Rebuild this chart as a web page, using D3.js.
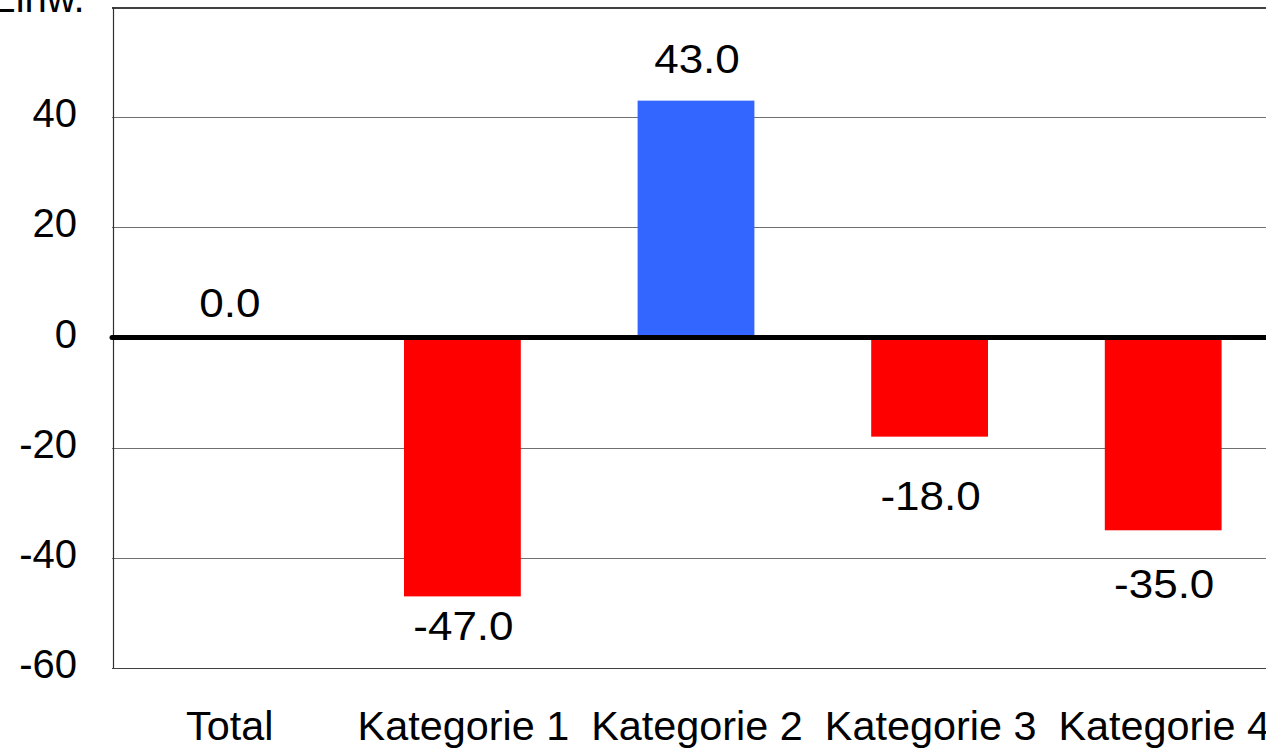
<!DOCTYPE html>
<html>
<head>
<meta charset="utf-8">
<script src="https://cdn.jsdelivr.net/npm/d3@7"></script>
<style>
  html, body { margin: 0; padding: 0; background: #fff; overflow: hidden; }
  text { font-family: "Liberation Sans", Arial, sans-serif; fill: #000; }
</style>
</head>
<body>
<svg id="chart" width="1266" height="748"></svg>
<script>
// ---- data ----
const categories = ["Total", "Kategorie 1", "Kategorie 2", "Kategorie 3", "Kategorie 4"];
const values = [0.0, -47.0, 43.0, -18.0, -35.0];
const yTicks = [-60, -40, -20, 0, 20, 40, 60];
const yAxisTitle = "Einw.";

// label nudges (layout, px) to mimic manually placed data labels
const labelNudge = [7, 0, 0, 29, 24];

(function () {
const svg = d3.select("#chart");
const pLeft = 112, pRight = 1280, pTop = 7, pBottom = 668;

const x = d3.scaleBand().domain(categories).range([pLeft, pRight])
  .paddingInner(0.5).paddingOuter(0.25);
const y = d3.scaleLinear().domain([-60, 60]).range([pBottom, pTop]);

// gridlines
svg.append("g").selectAll("line").data(yTicks.filter(t => t !== 0 && t !== 60 && t !== -60))
  .join("line")
  .attr("x1", pLeft).attr("x2", 1266)
  .attr("y1", d => Math.round(y(d)) + 0.5).attr("y2", d => Math.round(y(d)) + 0.5)
  .attr("stroke", "#707070").attr("stroke-width", 1);

// top border
svg.append("line").attr("x1", pLeft).attr("x2", 1266)
  .attr("y1", y(60) + 1).attr("y2", y(60) + 1)
  .attr("stroke", "#404040").attr("stroke-width", 2);
// bottom border
svg.append("line").attr("x1", pLeft).attr("x2", 1266)
  .attr("y1", Math.round(y(-60)) + 0.5).attr("y2", Math.round(y(-60)) + 0.5)
  .attr("stroke", "#404040").attr("stroke-width", 1.2);
// left axis
svg.append("line").attr("x1", pLeft + 1.5).attr("x2", pLeft + 1.5)
  .attr("y1", y(60)).attr("y2", y(-60))
  .attr("stroke", "#303030").attr("stroke-width", 1.2);

// y tick labels
svg.append("g").selectAll("text").data(yTicks.filter(t => t !== 60))
  .join("text")
  .attr("x", 77).attr("y", d => y(d) + 10)
  .attr("text-anchor", "end")
  .attr("font-size", 40)
  .text(d => d);

// bars
svg.append("g").selectAll("rect").data(values)
  .join("rect")
  .attr("x", (d, i) => x(categories[i]))
  .attr("width", x.bandwidth())
  .attr("y", d => y(Math.max(0, d)))
  .attr("height", d => Math.abs(y(d) - y(0)))
  .attr("fill", d => d >= 0 ? "#3366FF" : "#FF0000");

// zero line
svg.append("line").attr("x1", pLeft).attr("x2", 1266)
  .attr("y1", y(0)).attr("y2", y(0))
  .attr("stroke", "#000").attr("stroke-width", 5).attr("stroke-linecap", "round");

// data labels
svg.append("g").selectAll("text").data(values)
  .join("text")
  .attr("transform", (d, i) => {
    const cx = x(categories[i]) + x.bandwidth() / 2 + 1;
    const cy = (d >= 0 ? y(d) - 28 : y(d) + 44) + labelNudge[i];
    return `translate(${cx},${cy}) scale(1.1,1)`;
  })
  .attr("text-anchor", "middle")
  .attr("font-size", 40)
  .text(d => d.toFixed(1));

// category labels
svg.append("g").selectAll("text").data(categories)
  .join("text")
  .attr("transform", d => `translate(${x(d) + x.bandwidth() / 2 + 1},740) scale(1.035,1)`)
  .attr("text-anchor", "middle")
  .attr("font-size", 40)
  .text(d => d);

// axis title (partly cut off at the top)
svg.append("text").attr("x", -11).attr("y", 12)
  .attr("font-size", 40)
  .text(yAxisTitle);
})();
</script>
</body>
</html>
